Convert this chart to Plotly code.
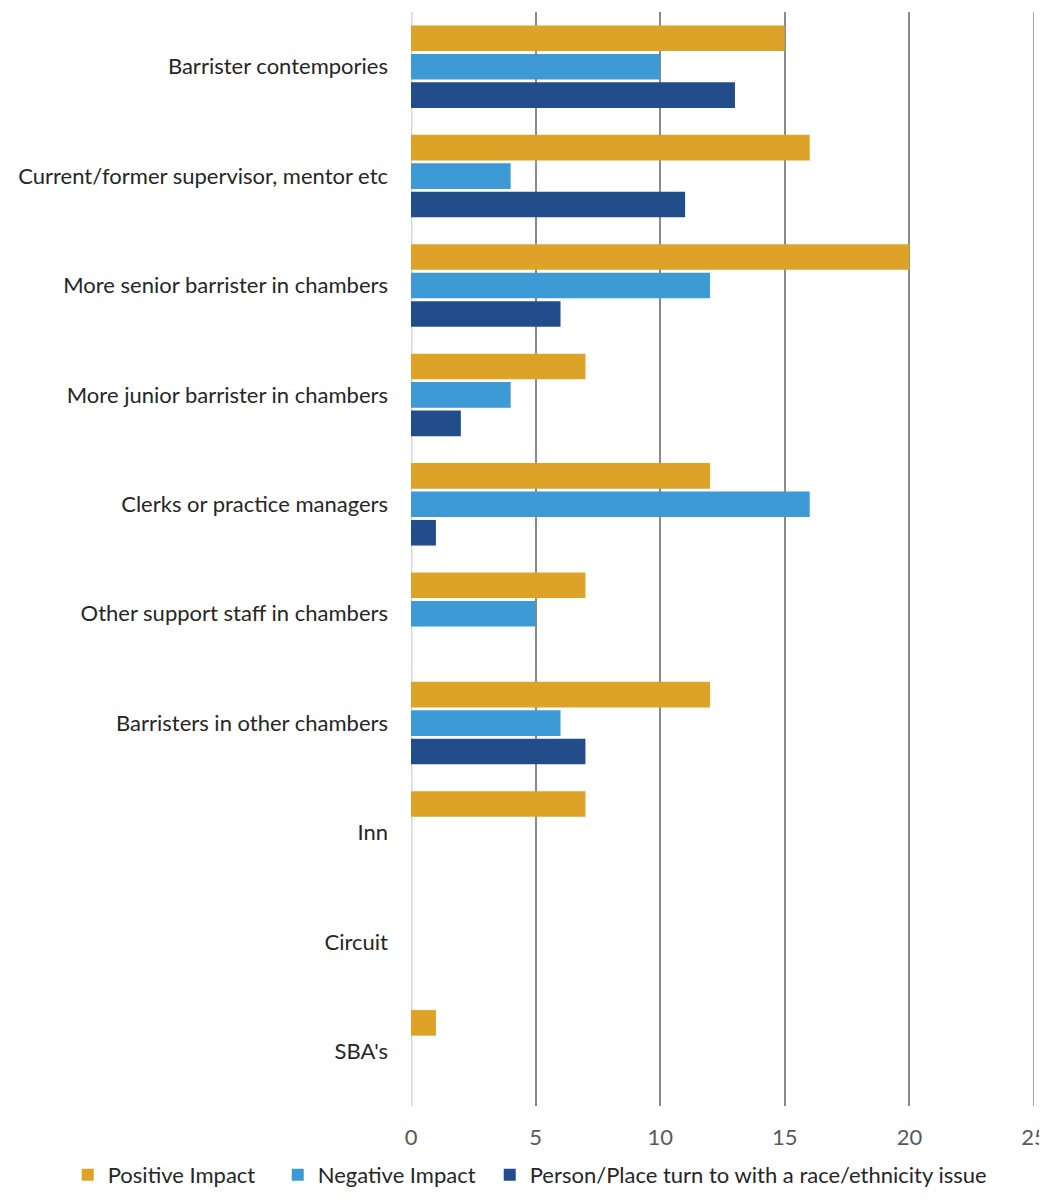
import plotly.graph_objects as go

categories = [
    "Barrister contempories",
    "Current/former supervisor, mentor etc",
    "More senior barrister in chambers",
    "More junior barrister in chambers",
    "Clerks or practice managers",
    "Other support staff in chambers",
    "Barristers in other chambers",
    "Inn",
    "Circuit",
    "SBA's",
]
positive = [15, 16, 20, 7, 12, 7, 12, 7, 0, 1]
negative = [10, 4, 12, 4, 16, 5, 6, 0, 0, 0]
person_place = [13, 11, 6, 2, 1, 0, 7, 0, 0, 0]

series_names = ["Positive Impact", "Negative Impact", "Person/Place turn to with a race/ethnicity issue"]
colors = ["#DDA228", "#3D9AD4", "#234C8A"]
legend_widths = [165, 167, None]
x_ticks = [0, 5, 10, 15, 20, 25]

fig = go.Figure()
for name, vals, col, lw in zip(series_names, [positive, negative, person_place], colors, legend_widths):
    tr = go.Bar(
        y=categories, x=vals, name=name, orientation="h",
        marker=dict(color=col, line=dict(width=0)),
    )
    if lw:
        tr.legendwidth = lw
    fig.add_trace(tr)

# page body has an 8px margin, so the figure is sized/offset to compensate
fig.update_layout(
    width=1039, height=1184,
    margin=dict(l=403, r=13, t=4, b=86, autoexpand=False),
    paper_bgcolor="white", plot_bgcolor="white",
    barmode="group", bargap=0.22, bargroupgap=0.1,
    font=dict(family="Lato, 'Open Sans', sans-serif", size=22, color="#262626"),
    xaxis=dict(
        range=[0, 25], tickvals=x_ticks, showgrid=True, gridcolor="#8a8a8a", gridwidth=1.5,
        zeroline=False, showline=False, ticks="", tickfont=dict(size=22, color="#595959"),
        ticklabelstandoff=16, automargin=False,
    ),
    yaxis=dict(
        autorange="reversed", showgrid=False, zeroline=False, showline=False,
        ticks="", ticklabelstandoff=22, tickfont=dict(size=22, color="#262626"),
        automargin=False,
    ),
    legend=dict(
        orientation="h", xref="paper", yref="paper", x=-0.551, xanchor="left",
        y=-0.063, yanchor="middle", font=dict(size=22, color="#262626"),
        itemwidth=30, tracegroupgap=0,
    ),
    shapes=[
        dict(type="line", xref="x", yref="paper", x0=0, x1=0, y0=0, y1=1,
             line=dict(color="#d9d9d9", width=3), layer="below"),
        dict(type="line", xref="x", yref="paper", x0=25, x1=25, y0=0, y1=1,
             line=dict(color="#8a8a8a", width=1.5), layer="below"),
    ],
)

fig.write_html("out.html")
